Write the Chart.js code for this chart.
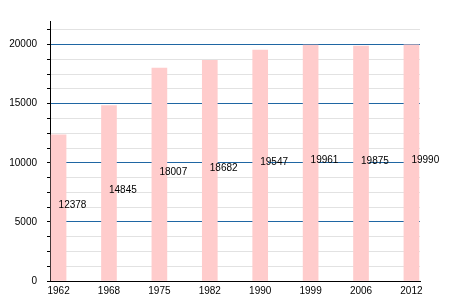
<!DOCTYPE html>
<html>
<head>
<meta charset="utf-8">
<script src="https://cdn.jsdelivr.net/npm/chart.js@4"></script>
<style>
  html, body { margin: 0; padding: 0; background: #fff; }
  #wrap { width: 450px; height: 300px; }
</style>
</head>
<body>
<div id="wrap"><canvas id="popChart"></canvas></div>
<script>
// Données : années de recensement et population
const years = ['1962', '1968', '1975', '1982', '1990', '1999', '2006', '2012'];
const population = [12378, 14845, 18007, 18682, 19547, 19961, 19875, 19990];
const yTickStep = 1250;   // petites graduations
const yLabelStep = 5000;  // graduations étiquetées
const yMax = 22000;

const FONT = { family: '"Liberation Sans", Arial, sans-serif', size: 10 };

// Étiquettes des valeurs, posées au milieu de chaque barre
const valueLabels = {
    id: 'valueLabels',
    afterDatasetsDraw(chart) {
        const { ctx, scales } = chart;
        ctx.save();
        ctx.font = FONT.size + 'px ' + FONT.family;
        ctx.fillStyle = '#000';
        ctx.textAlign = 'left';
        ctx.textBaseline = 'alphabetic';
        population.forEach((v, i) => {
            const x = scales.x.getPixelForValue(i);
            const y = scales.y.getPixelForValue(v / 2);
            ctx.fillText(String(v), x, y);
        });
        ctx.restore();
    }
};

function isMajor(v) {
    return v > 0 && Math.round(v) % yLabelStep === 0;
}

new Chart(document.getElementById('popChart'), {
    type: 'bar',
    data: {
        datasets: [{
            data: population.map((v, i) => ({ x: i, y: v })),
            backgroundColor: '#ffcccc',
            borderWidth: 0,
            barThickness: 15
        }]
    },
    options: {
        responsive: true,
        maintainAspectRatio: false,
        animation: false,
        layout: { padding: { top: 21, right: 30, left: 0, bottom: 0 } },
        plugins: {
            legend: { display: false },
            tooltip: { enabled: false }
        },
        scales: {
            x: {
                type: 'linear',
                min: -0.17,
                max: 7.17,
                offset: false,
                grid: { display: false, drawTicks: false, offset: false },
                border: { color: '#000', width: 1 },
                afterBuildTicks: scale => {
                    scale.ticks = years.map((_, i) => ({ value: i }));
                },
                afterFit: scale => { scale.height = 19; },
                ticks: {
                    autoSkip: false,
                    maxRotation: 0,
                    padding: 4,
                    color: '#000',
                    font: FONT,
                    callback: value => years[value]
                }
            },
            y: {
                min: 0,
                max: yMax,
                afterBuildTicks: scale => {
                    const t = [];
                    for (let v = 0; v < yMax; v += yTickStep) t.push({ value: v });
                    scale.ticks = t;
                },
                afterFit: scale => { scale.width = 50; },
                grid: {
                    color: c => (c.tick && isMajor(c.tick.value)) ? '#1f66a3' : '#e2e2e2',
                    tickColor: '#000',
                    tickLength: 3
                },
                border: { color: '#000', width: 1 },
                ticks: {
                    autoSkip: false,
                    padding: 10,
                    color: '#000',
                    font: FONT,
                    callback: value => value % yLabelStep === 0 ? String(value) : ''
                }
            }
        }
    },
    plugins: [valueLabels]
});
</script>
</body>
</html>
